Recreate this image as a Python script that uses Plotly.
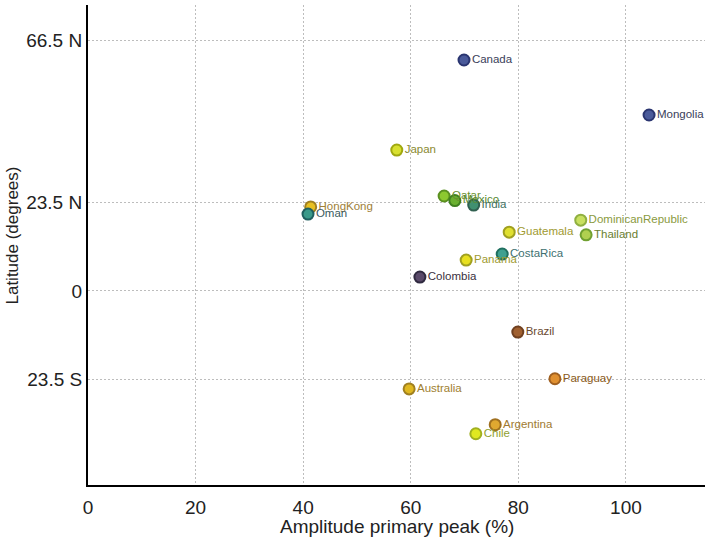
import plotly.graph_objects as go

countries = ["Canada", "Mongolia", "Japan", "HongKong", "Oman", "Qatar", "Mexico", "India",
             "DominicanRepublic", "Thailand", "Guatemala", "CostaRica", "Panama", "Colombia",
             "Brazil", "Paraguay", "Australia", "Argentina", "Chile"]
amplitude = [69.9, 104.3, 57.4, 41.4, 40.9, 66.2, 68.2, 71.7,
             91.6, 92.6, 78.3, 77.0, 70.3, 61.7,
             79.9, 86.8, 59.7, 75.7, 72.1]
latitude = [61.3, 46.7, 37.4, 22.3, 20.4, 25.2, 24.0, 22.8,
            18.8, 14.9, 15.6, 9.8, 8.2, 3.7,
            -10.9, -23.3, -26.0, -35.5, -37.9]
fill_colors = ["#4a5a9a", "#4a5a9a", "#d8e030", "#e8c020", "#3a9a8a", "#8cc830", "#6ab030", "#409070",
               "#c8e060", "#b0d050", "#e0e030", "#40a090", "#e8e020", "#5a4a6a",
               "#a06030", "#e09030", "#e0b820", "#e0a830", "#e0e820"]
line_colors = ["#2a3570", "#2a3570", "#a0a810", "#a08020", "#206060", "#5a9020", "#408020", "#306050",
               "#90b040", "#70a030", "#a0a020", "#207060", "#a0a020", "#302a40",
               "#704020", "#a06020", "#a08020", "#a07020", "#a0b020"]
text_colors = ["#3a3e5a", "#3a3e5a", "#8a8a30", "#a08038", "#3a5a60", "#6a9030", "#5a8a30", "#407060",
               "#8a9a40", "#6a8030", "#a09a30", "#407070", "#a09a30", "#3a3040",
               "#6a4a30", "#8a5a20", "#a08030", "#a07a30", "#90a030"]

x_ticks = [0, 20, 40, 60, 80, 100]
y_tickvals = [66.5, 23.5, 0, -23.5]
y_ticktext = ["66.5 N", "23.5 N", "0", "23.5 S"]
x_title = "Amplitude primary peak (%)"
y_title = "Latitude (degrees)"

fig = go.Figure()
fig.add_trace(go.Scatter(
    x=amplitude, y=latitude, mode="markers+text", text=countries,
    textposition="middle right",
    textfont=dict(family="Liberation Sans, Arial", size=11.5, color=text_colors),
    marker=dict(size=11, color=fill_colors, line=dict(color=line_colors, width=2)),
    hoverinfo="text", showlegend=False,
))

fig.update_layout(
    width=709, height=540,
    margin=dict(l=88, r=4, t=5, b=55),
    plot_bgcolor="white", paper_bgcolor="white",
    font=dict(family="Liberation Sans, Arial", size=16, color="#222"),
    xaxis=dict(range=[0, 114.7], tickvals=x_ticks, showline=True, linecolor="black", linewidth=2,
               showgrid=True, gridcolor="#bdbdbd", griddash="2px,2px", gridwidth=1, zeroline=False,
               ticks="", ticklabelstandoff=4, tickfont=dict(size=19)),
    yaxis=dict(range=[-51.5, 75.9], tickvals=y_tickvals, ticktext=y_ticktext, showline=True,
               linecolor="black", linewidth=2, showgrid=True, gridcolor="#bdbdbd", griddash="2px,2px",
               gridwidth=1, zeroline=False, ticks="", tickfont=dict(size=19)),
    annotations=[
        dict(text=y_title, xref="paper", yref="paper", x=-0.123, y=0.52,
             textangle=-90, showarrow=False, font=dict(size=17, color="#222"),
             xanchor="center", yanchor="middle"),
        dict(text=x_title, xref="paper", yref="paper", x=0.5, y=-0.087,
             showarrow=False, font=dict(size=19, color="#222"),
             xanchor="center", yanchor="middle"),
    ],
)

fig.write_html("out.html")
